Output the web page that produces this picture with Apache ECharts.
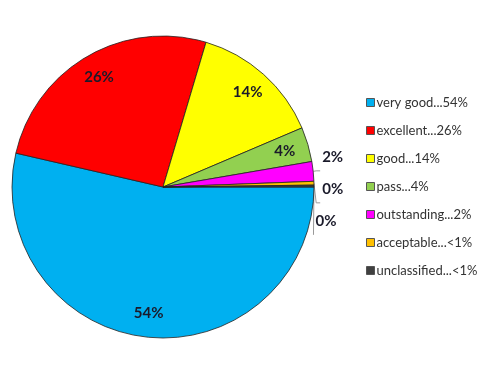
<!DOCTYPE html>
<html><head><meta charset="utf-8">
<script src="https://cdn.jsdelivr.net/npm/echarts@6/dist/echarts.min.js"></script>
<style>html,body{margin:0;padding:0;background:#fff}#c{width:500px;height:375px}</style>
</head><body><div id="c"></div>
<script>
const categories = ['very good', 'excellent', 'good', 'pass', 'outstanding', 'acceptable', 'unclassified'];
const legendSuffix = ['54%', '26%', '14%', '4%', '2%', '<1%', '<1%'];
const values = [53.6, 26.0, 14.0, 3.7, 2.1, 0.4, 0.2];
const colors = ['#00b0f0', '#ff0000', '#ffff00', '#92d050', '#ff00ff', '#ffc000', '#404040'];
const outsideLabel = [false, false, false, false, true, true, true];

const names = categories.map((c, i) => c + '...' + legendSuffix[i]);
const fmt = p => Math.round(p.percent) + '%';
const font = 'Lato, "Open Sans", sans-serif';

const mainData = names.map((n, i) => ({
  name: n, value: values[i], itemStyle: { color: colors[i] },
  label: outsideLabel[i] ? { show: true } : { show: false },
  labelLine: { show: outsideLabel[i] }
}));
const overlayData = names.map((n, i) => ({
  name: n, value: values[i],
  label: { show: !outsideLabel[i] }
}));

const chart = echarts.init(document.getElementById('c'));
chart.setOption({
  animation: false,
  legend: {
    orient: 'vertical', left: 361, top: 91,
    icon: 'rect', itemWidth: 8, itemHeight: 8, itemGap: 15,
    itemStyle: { borderColor: '#555', borderWidth: 1 },
    textStyle: { fontSize: 13, color: '#333', fontFamily: font, padding: [0, 0, 0, -3] },
    data: names
  },
  series: [{
    type: 'pie', center: [163, 187], radius: 151, startAngle: 0, clockwise: true,
    data: mainData,
    itemStyle: { borderColor: '#222', borderWidth: 0.8 },
    label: { position: 'outside', formatter: fmt, fontSize: 15, lineHeight: 30, fontWeight: 'bold', color: '#1a1a2a', fontFamily: font, distanceToLabelLine: 2 },
    labelLine: { length: 5, length2: 4, lineStyle: { color: '#999', width: 1 } },
    labelLayout: { dy: -14 },
    avoidLabelOverlap: true
  }, {
    type: 'pie', center: [163, 187], radius: [97, 151], startAngle: 0, clockwise: true,
    silent: true, legendHoverLink: false,
    data: overlayData,
    itemStyle: { color: 'rgba(0,0,0,0)', borderWidth: 0 },
    label: { position: 'inside', formatter: fmt, fontSize: 15, fontWeight: 'bold', color: '#1a1a2a', fontFamily: font },
    labelLine: { show: false },
    emphasis: { disabled: true }
  }]
});
</script></body></html>
